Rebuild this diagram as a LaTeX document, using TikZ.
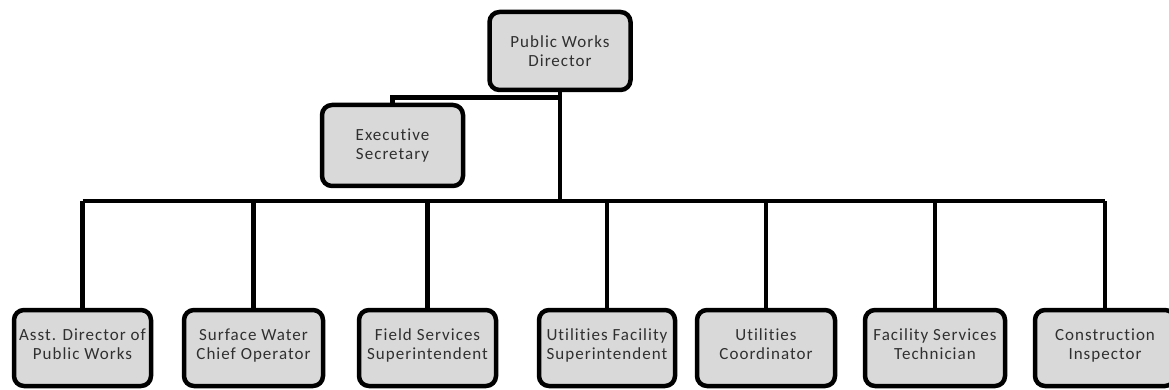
\documentclass[tikz,border=0pt]{standalone}
\usepackage{fontspec}
\setmainfont{Carlito}
\newfontfamily\boxfont[LetterSpace=6,Ligatures=NoCommon]{Carlito}
\begin{document}
\begin{tikzpicture}[x=1pt,y=-1pt,
  orgbox/.style={draw=black, line width=4.5pt, fill=boxgray, rounded corners=10pt,
    align=center, inner sep=0pt, text=textgray,
    font=\boxfont\fontsize{17}{18.5}\selectfont},
  link/.style={draw=black, line width=4.5pt}]
\definecolor{boxgray}{HTML}{D9D9D9}
\definecolor{textgray}{HTML}{303030}
\useasboundingbox (0,0) rectangle (1169,390);
\clip (0,0) rectangle (1169,390);

% top level
\node[orgbox, minimum width=141pt, minimum height=78pt] (dir) at (560,51) {Public Works\\Director};
\node[orgbox, minimum width=141pt, minimum height=81pt] (sec) at (392.5,145.5) {Executive\\Secretary};

% second level
\node[orgbox, minimum width=137pt, minimum height=76pt, text depth=8pt] (b1) at (82.5,348) {Asst. Director of\\Public Works};
\node[orgbox, minimum width=139pt, minimum height=76pt, text depth=8pt] (b2) at (253.5,348) {Surface Water\\Chief Operator};
\node[orgbox, minimum width=137pt, minimum height=76pt, text depth=8pt] (b3) at (427.5,348) {Field Services\\Superintendent};
\node[orgbox, minimum width=136pt, minimum height=76pt, text depth=8pt] (b4) at (607,348) {Utilities Facility\\Superintendent};
\node[orgbox, minimum width=138pt, minimum height=76pt, text depth=8pt] (b5) at (766,348) {Utilities\\Coordinator};
\node[orgbox, minimum width=140pt, minimum height=76pt, text depth=8pt] (b6) at (935,348) {Facility Services\\Technician};
\node[orgbox, minimum width=140pt, minimum height=76pt, text depth=8pt] (b7) at (1105,348) {Construction\\Inspector};

% connectors
\coordinate (tap) at (560,97.5);
\coordinate (bus) at (560,201);
\draw[link] (dir.south) -- (bus);
\draw[link] (tap) -| (sec.north);
\draw[link] (b1.north |- bus) -- (b7.north |- bus);
\foreach \b in {b1,b2,b3,b4,b5,b6,b7}
  \draw[link] (\b.north |- bus) -- (\b.north);
\end{tikzpicture}
\end{document}
